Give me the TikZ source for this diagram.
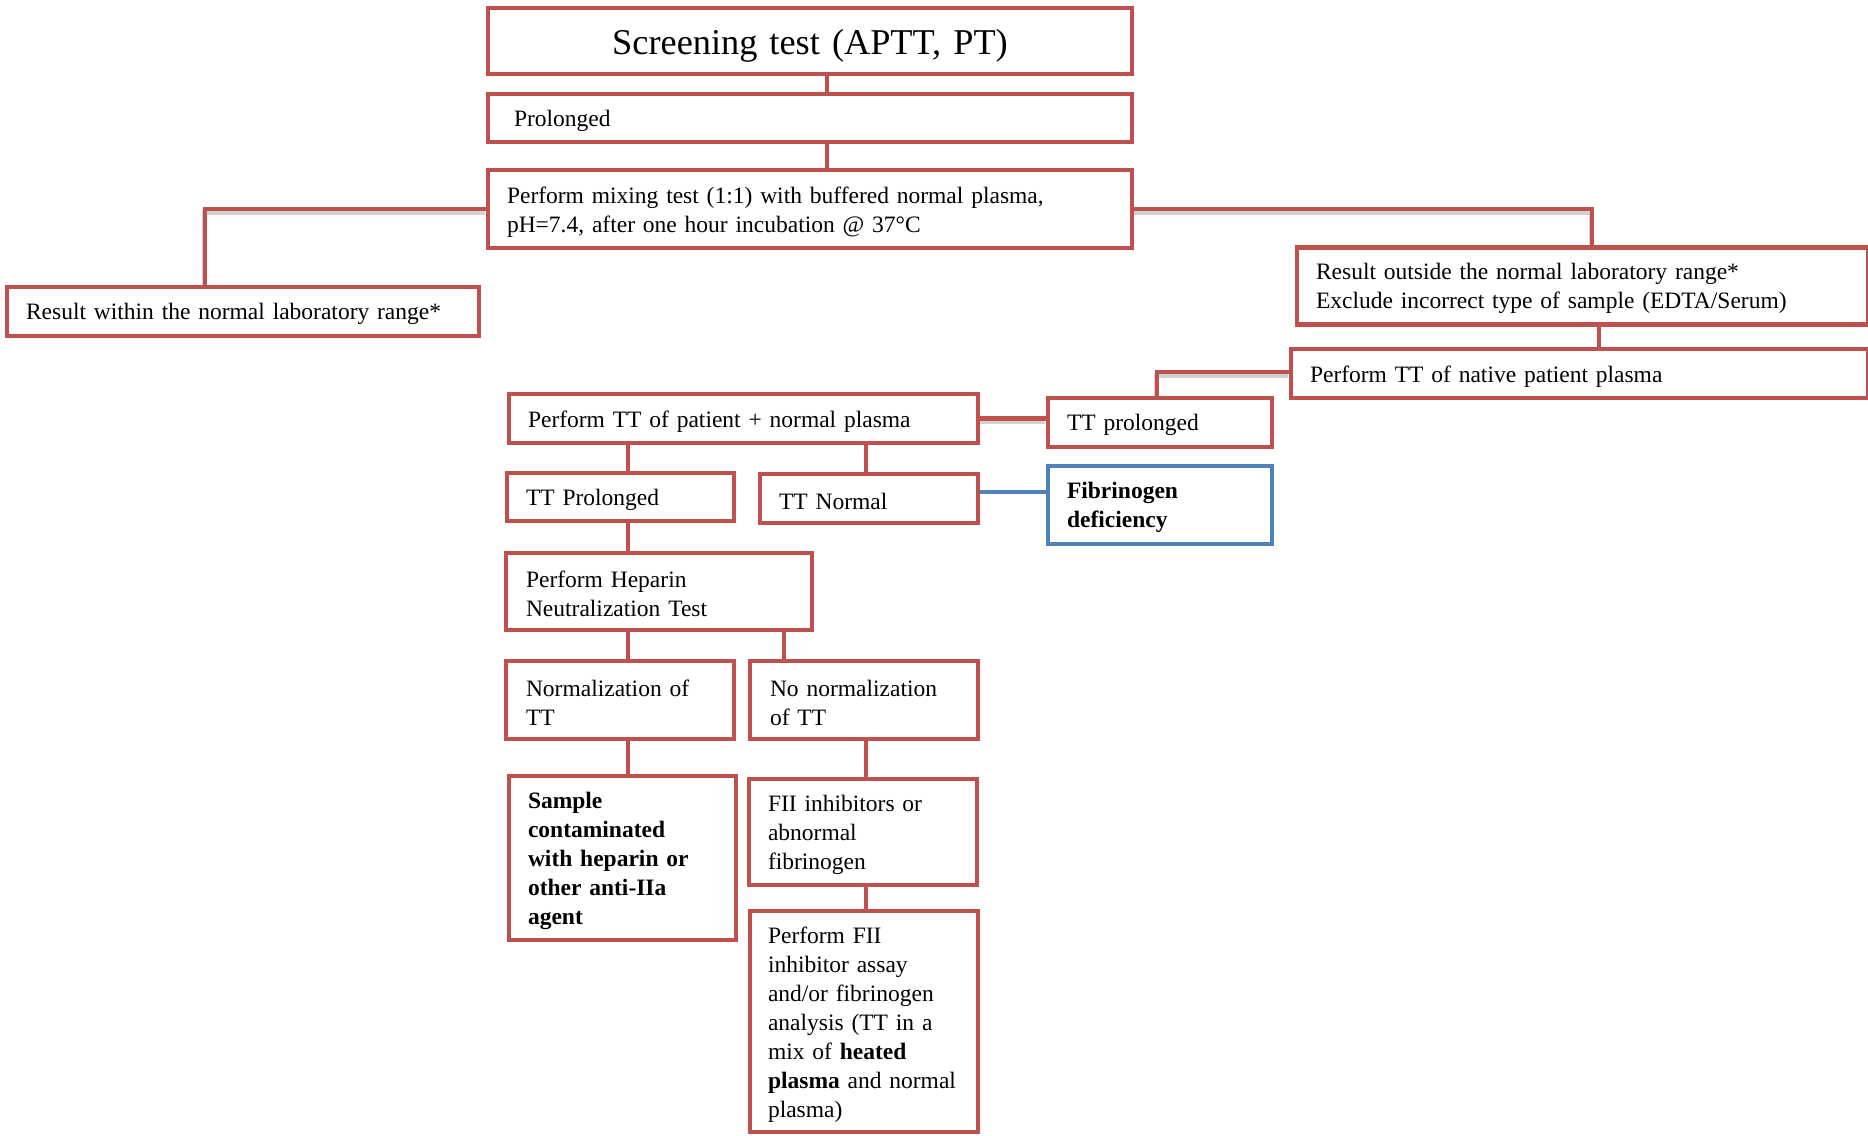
\documentclass[tikz,border=0pt]{standalone}
\usepackage{fontspec}
\setmainfont{Liberation Serif}
\usetikzlibrary{calc}
\definecolor{boxred}{HTML}{C0504D}
\definecolor{boxblue}{HTML}{4F81BD}
\pgfdeclarelayer{bg}
\pgfsetlayers{bg,main}
\begin{document}
\begin{tikzpicture}[x=1pt,y=-1pt,
  box/.style={draw=boxred, line width=4.5pt, fill=white, inner sep=0pt, align=left,
              font=\fontsize{23.5}{29}\selectfont,
              execute at begin node={\rule{0pt}{22pt}}},
  bluebox/.style={box, draw=boxblue},
  conn/.style={draw=boxred, line width=4.5pt},
  bconn/.style={draw=boxblue, line width=4.5pt},
  shade/.style={draw=black!18, line width=4.5pt, transform canvas={xshift=-1pt,yshift=-3.5pt}},
]
\useasboundingbox (0,0) rectangle (1868,1135);

% boxes
\node[box, minimum width=644pt, minimum height=66pt, text width=604pt, align=center,
      font=\fontsize{36.3}{44}\selectfont, execute at begin node={\rule{0pt}{34pt}}] (screen) at (810,41) {Screening test (APTT, PT)};
\node[box, minimum width=644pt, minimum height=48pt, text width=592pt] (prol) at (810,118) {Prolonged};
\node[box, minimum width=644pt, minimum height=78pt, text width=606pt] (mix) at (810,209)
  {Perform mixing test (1:1) with buffered normal plasma,\\pH=7.4, after one hour incubation @ 37°C};
\node[box, minimum width=472pt, minimum height=49pt, text width=434pt] (within) at (243,311.5)
  {Result within the normal laboratory range*};
\node[box, minimum width=571pt, minimum height=77pt, text width=533pt] (outside) at (1582.5,286)
  {Result outside the normal laboratory range*\\Exclude incorrect type of sample (EDTA/Serum)};
\node[box, minimum width=577pt, minimum height=49pt, text width=539pt] (native) at (1579.5,373.5)
  {Perform TT of native patient plasma};
\node[box, minimum width=469pt, minimum height=49pt, text width=431pt] (patient) at (743.5,418.5)
  {Perform TT of patient + normal plasma};
\node[box, minimum width=224pt, minimum height=49pt, text width=186pt] (ttprol) at (1160,422.5)
  {TT prolonged};
\node[box, minimum width=227pt, minimum height=48pt, text width=189pt] (ttP) at (620.5,497)
  {TT Prolonged};
\node[box, minimum width=218pt, minimum height=49pt, text width=180pt] (ttN) at (869,498.5)
  {TT Normal};
\node[bluebox, minimum width=224pt, minimum height=78pt, text width=186pt] (fib) at (1160,505)
  {\bfseries Fibrinogen\\\bfseries deficiency};
\node[box, minimum width=306pt, minimum height=77pt, text width=266pt] (hep) at (659,591.5)
  {Perform Heparin\\Neutralization Test};
\node[box, minimum width=228pt, minimum height=78pt, text width=188pt] (norm) at (620,700)
  {Normalization of\\TT};
\node[box, minimum width=228pt, minimum height=78pt, text width=188pt] (nonorm) at (864,700)
  {No normalization\\of TT};
\node[box, minimum width=227pt, minimum height=164pt, text width=189pt] (sample) at (622.5,858)
  {\bfseries Sample\\\bfseries contaminated\\\bfseries with heparin or\\\bfseries other anti-IIa\\\bfseries agent};
\node[box, minimum width=228pt, minimum height=106pt, text width=190pt] (fii) at (863,832)
  {FII inhibitors or\\abnormal\\fibrinogen};
\node[box, minimum width=228pt, minimum height=221pt, text width=192pt] (perffii) at (864,1021.5)
  {Perform FII\\inhibitor assay\\and/or fibrinogen\\analysis (TT in a\\mix of \textbf{heated}\\\textbf{plasma} and normal\\plasma)};

% connectors
\begin{pgfonlayer}{bg}
  \fill[white] (0,0) rectangle (1868,1135);
  \draw[shade] (mix.west) -| ([xshift=-38pt]within.north);
  \draw[shade] (mix.east) -| ([xshift=9.5pt]outside.north);
  \draw[shade] ([yshift=1.5pt]native.west) -| ([xshift=-3pt]ttprol.north);
  \draw[shade] (patient.east) -- (patient.east -| ttprol.west);

  \draw[conn] ([xshift=17pt]screen.south) -- ([xshift=17pt]prol.north);
  \draw[conn] ([xshift=17pt]prol.south) -- ([xshift=17pt]mix.north);
  \draw[conn] (mix.west) -| ([xshift=-38pt]within.north);
  \draw[conn] (mix.east) -| ([xshift=9.5pt]outside.north);
  \draw[conn] ([xshift=16.5pt]outside.south) -- ([xshift=19.5pt]native.north);
  \draw[conn] ([yshift=1.5pt]native.west) -| ([xshift=-3pt]ttprol.north);
  \draw[conn] (patient.east) -- (patient.east -| ttprol.west);
  \draw[conn] ([xshift=-115.5pt]patient.south) -- ([xshift=7.5pt]ttP.north);
  \draw[conn] ([xshift=122.5pt]patient.south) -- ([xshift=-3pt]ttN.north);
  \draw[bconn] ([yshift=6.5pt]ttN.east) -- ([yshift=6.5pt]ttN.east -| fib.west);
  \draw[conn] ([xshift=7.5pt]ttP.south) -- ([xshift=-31pt]hep.north);
  \draw[conn] ([xshift=-31pt]hep.south) -- ([xshift=8pt]norm.north);
  \draw[conn] ([xshift=125pt]hep.south) -- ([xshift=-80pt]nonorm.north);
  \draw[conn] ([xshift=8pt]norm.south) -- ([xshift=5.5pt]sample.north);
  \draw[conn] ([xshift=2pt]nonorm.south) -- ([xshift=3pt]fii.north);
  \draw[conn] ([xshift=3pt]fii.south) -- ([xshift=2pt]perffii.north);
\end{pgfonlayer}
\end{tikzpicture}
\end{document}
